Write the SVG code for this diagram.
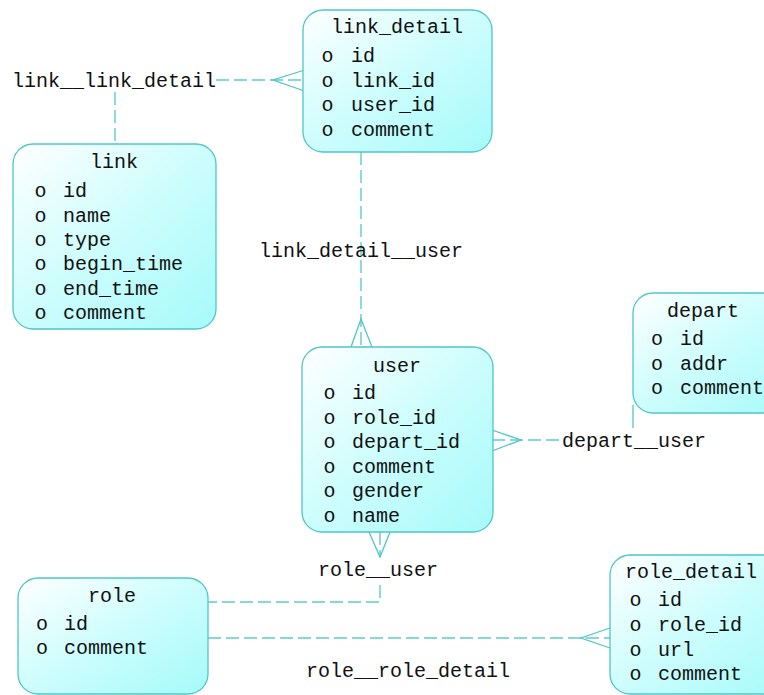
<svg xmlns="http://www.w3.org/2000/svg" width="764" height="695" viewBox="0 0 764 695">
  <defs>
    <linearGradient id="entityFill" x1="0" y1="0" x2="1" y2="1">
      <stop offset="0" stop-color="#ffffff"/>
      <stop offset="0.5" stop-color="#cdfdfd"/>
      <stop offset="1" stop-color="#a6fafa"/>
    </linearGradient>
  </defs>
  <style>
    .box { fill: url(#entityFill); stroke: #4fc6c6; stroke-width: 1.3; }
    /* monospace, 12px per character */
    text { font-family: "Liberation Mono", "DejaVu Sans Mono", monospace; font-size: 20px; fill: #111111; }
    .rel { fill: none; stroke: #5ccdcd; stroke-width: 1.4; stroke-dasharray: 13 5; }
    .foot { fill: none; stroke: #4fc6c6; stroke-width: 1.3; }
  </style>

  <!-- relationships -->
  <g id="connectors">
    <!-- link__link_detail -->
    <path class="rel" d="M216 80 H303"/>
    <path class="foot" d="M303 70.5 L273 80 L303 90.5"/>
    <path class="rel" d="M115 92 V145"/>
    <text x="12" y="87">link__link_detail</text>

    <!-- link_detail__user -->
    <path class="rel" d="M361 152 V348"/>
    <path class="foot" d="M351 347 L361 319 L372 347"/>
    <text x="259" y="257">link_detail__user</text>

    <!-- depart__user -->
    <path class="rel" d="M492 440 H560"/>
    <path class="foot" d="M492 430 L521 440 L492 451"/>
    <path class="foot" d="M633 405 V428"/>
    <text x="562" y="447">depart__user</text>

    <!-- role__user -->
    <path class="rel" d="M380 532 V557"/>
    <path class="foot" d="M369 532 L380 557 L390 532"/>
    <path class="rel" d="M380 585 V602 H208"/>
    <text x="318" y="576">role__user</text>

    <!-- role__role_detail -->
    <path class="rel" d="M208 638 H610"/>
    <path class="foot" d="M610 628 L581 638 L610 648"/>
    <text x="306" y="677">role__role_detail</text>
  </g>

  <!-- entities -->
  <g id="link_detail">
    <rect class="box" x="303" y="10" width="189" height="142" rx="20"/>
    <text x="331" y="33">link_detail</text>
    <text x="321.5" y="62">o</text><text x="351" y="62">id</text>
    <text x="321.5" y="87">o</text><text x="351" y="87">link_id</text>
    <text x="321.5" y="111">o</text><text x="351" y="111">user_id</text>
    <text x="321.5" y="136">o</text><text x="351" y="136">comment</text>
  </g>

  <g id="link">
    <rect class="box" x="13" y="144" width="203" height="185" rx="20"/>
    <text x="90" y="168">link</text>
    <text x="34.5" y="197">o</text><text x="63" y="197">id</text>
    <text x="34.5" y="222">o</text><text x="63" y="222">name</text>
    <text x="34.5" y="246">o</text><text x="63" y="246">type</text>
    <text x="34.5" y="270">o</text><text x="63" y="270">begin_time</text>
    <text x="34.5" y="295">o</text><text x="63" y="295">end_time</text>
    <text x="34.5" y="319">o</text><text x="63" y="319">comment</text>
  </g>

  <g id="depart">
    <rect class="box" x="633" y="293" width="160" height="120" rx="20"/>
    <text x="667" y="317">depart</text>
    <text x="651" y="345">o</text><text x="680" y="345">id</text>
    <text x="651" y="370">o</text><text x="680" y="370">addr</text>
    <text x="651" y="394">o</text><text x="680" y="394">comment</text>
  </g>

  <g id="user">
    <rect class="box" x="302" y="347" width="191" height="185" rx="20"/>
    <text x="373" y="372">user</text>
    <text x="323.5" y="399">o</text><text x="352" y="399">id</text>
    <text x="323.5" y="424">o</text><text x="352" y="424">role_id</text>
    <text x="323.5" y="448">o</text><text x="352" y="448">depart_id</text>
    <text x="323.5" y="473">o</text><text x="352" y="473">comment</text>
    <text x="323.5" y="497">o</text><text x="352" y="497">gender</text>
    <text x="323.5" y="522">o</text><text x="352" y="522">name</text>
  </g>

  <g id="role">
    <rect class="box" x="18" y="578" width="190" height="116" rx="20"/>
    <text x="88" y="602">role</text>
    <text x="36" y="630">o</text><text x="64" y="630">id</text>
    <text x="36" y="654">o</text><text x="64" y="654">comment</text>
  </g>

  <g id="role_detail">
    <rect class="box" x="610" y="555" width="180" height="139" rx="20"/>
    <text x="625" y="578">role_detail</text>
    <text x="629.5" y="606">o</text><text x="658" y="606">id</text>
    <text x="629.5" y="631">o</text><text x="658" y="631">role_id</text>
    <text x="629.5" y="656">o</text><text x="658" y="656">url</text>
    <text x="629.5" y="680">o</text><text x="658" y="680">comment</text>
  </g>
</svg>
